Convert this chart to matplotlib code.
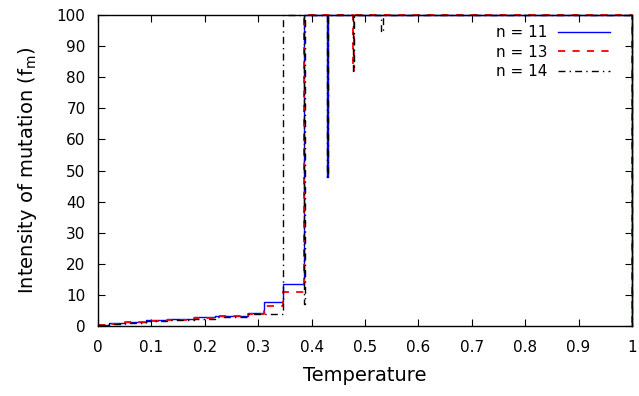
import matplotlib
matplotlib.use("Agg")
import matplotlib.pyplot as plt

# Step data (temperature breakpoints, f_m values)
t_n11 = [0, 0.02, 0.05, 0.09, 0.13, 0.18, 0.22, 0.28, 0.31, 0.346, 0.385, 0.428, 0.431, 1.0, 1.0]
f_n11 = [0.3, 0.8, 1.3, 1.8, 2.2, 2.8, 3.3, 4.2, 7.7, 13.6, 100, 48, 100, 100, 0]

t_n13 = [0, 0.02, 0.05, 0.09, 0.13, 0.18, 0.22, 0.28, 0.31, 0.346, 0.385, 0.477, 0.48, 1.0, 1.0]
f_n13 = [0.2, 0.7, 1.2, 1.6, 2.0, 2.6, 3.1, 3.9, 6.5, 11, 100, 82, 100, 100, 0]

t_n14 = [0, 0.02, 0.05, 0.09, 0.13, 0.18, 0.22, 0.28, 0.346, 0.385, 0.388,
         0.428, 0.431, 0.477, 0.48, 0.53, 0.533, 1.0, 1.0]
f_n14 = [0.2, 0.7, 1.1, 1.5, 1.9, 2.4, 2.9, 3.8, 100, 7, 100,
         48, 100, 82, 100, 94.6, 100, 100, 0]

x_ticks = [0, 0.1, 0.2, 0.3, 0.4, 0.5, 0.6, 0.7, 0.8, 0.9, 1]
x_tick_labels = ["0", "0.1", "0.2", "0.3", "0.4", "0.5", "0.6", "0.7", "0.8", "0.9", "1"]
y_ticks = list(range(0, 101, 10))

fig = plt.figure(figsize=(6.39, 3.96), dpi=100)
ax = fig.add_axes([0.1534, 0.1768, 0.8356, 0.7852])

ax.plot(t_n11, f_n11, drawstyle="steps-post", color="blue", lw=1.0,
        label="n = 11", clip_on=False)
ax.plot(t_n13, f_n13, drawstyle="steps-post", color="red", lw=1.3,
        dashes=(4, 4), label="n = 13", clip_on=False)
ax.plot(t_n14, f_n14, drawstyle="steps-post", color="black", lw=1.0,
        dashes=(5, 3, 1, 3), label="n = 14", clip_on=False)

ax.set_xlim(0, 1)
ax.set_ylim(0, 100)
ax.set_xticks(x_ticks)
ax.set_xticklabels(x_tick_labels)
ax.set_yticks(y_ticks)
ax.tick_params(direction="in", top=True, right=True, labelsize=11, length=5)
ax.tick_params(axis="x", pad=10)
ax.tick_params(axis="y", pad=9)
for s in ax.spines.values():
    s.set_linewidth(1.0)

ax.set_xlabel("Temperature", fontsize=14, labelpad=8)
ax.set_ylabel("Intensity of mutation (f$_\\mathregular{m}$)", fontsize=14, labelpad=13)

ax.legend(loc="upper right", bbox_to_anchor=(0.959, 0.968), frameon=False,
          markerfirst=False, fontsize=11, handlelength=3.4, handletextpad=0.7,
          labelspacing=0.3, borderaxespad=0, borderpad=0)

fig.savefig("out.png", dpi=100)
